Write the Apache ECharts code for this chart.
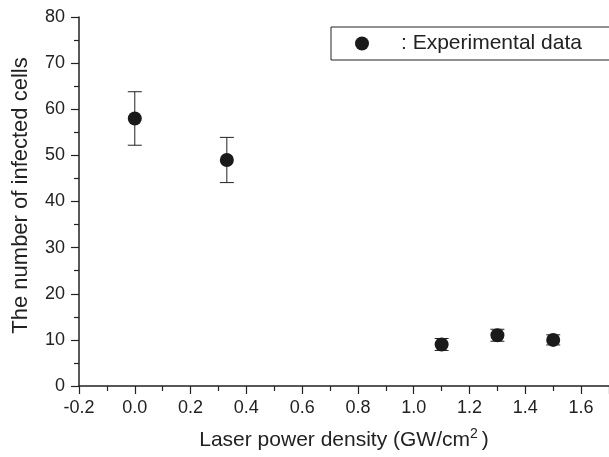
<!DOCTYPE html>
<html>
<head>
<meta charset="utf-8">
<script src="https://cdn.jsdelivr.net/npm/echarts@6/dist/echarts.min.js"></script>
<style>html,body{margin:0;padding:0;background:#fff;}#chart{width:609px;height:457px;}</style>
</head>
<body>
<div id="chart"></div>
<script>
// Data
var laserPower = [0.0, 0.33, 1.1, 1.3, 1.5];
var infectedCells = [58, 49, 9, 11, 10];
var errorValues = [5.8, 4.9, 1.3, 1.3, 1.1];
var seriesName = 'Experimental data';
var xTitle = 'Laser power density (GW/cm{sup|2})';
var yTitle = 'The number of infected cells';

var scatterData = laserPower.map(function (x, i) { return [x, infectedCells[i]]; });
var errorData = laserPower.map(function (x, i) {
  return [x, infectedCells[i] - errorValues[i], infectedCells[i] + errorValues[i]];
});

var FONT = 'Liberation Sans, Arial, Helvetica, sans-serif';
var INK = '#222';

var chart = echarts.init(document.getElementById('chart'), null, { renderer: 'canvas' });
chart.setOption({
  animation: false,
  backgroundColor: '#fff',
  grid: { left: 79, right: -3, top: 17, bottom: 71, containLabel: false },
  legend: {
    data: [seriesName],
    left: 331, top: 27,
    orient: 'horizontal',
    icon: 'circle',
    itemWidth: 14, itemHeight: 14,
    padding: [6, 60, 6, 24],
    borderColor: INK, borderWidth: 1,
    backgroundColor: '#fff',
    formatter: function (n) { return ': ' + n; },
    itemStyle: { opacity: 1, color: '#1a1a1a' },
    textStyle: { fontFamily: FONT, fontSize: 21, color: INK, padding: [0, 0, 0, 27] },
    selectedMode: false
  },
  xAxis: {
    type: 'value',
    min: -0.2, max: 1.7, interval: 0.2,
    name: xTitle,
    nameLocation: 'middle',
    nameGap: 41,
    nameTextStyle: {
      fontFamily: FONT, fontSize: 21, color: INK,
      rich: { sup: { fontSize: 14, verticalAlign: 'top', padding: [0, 4, 13, 0], fontFamily: FONT, color: INK } }
    },
    axisLine: { show: true, onZero: false, lineStyle: { color: INK, width: 1.5 } },
    axisTick: { show: true, inside: false, length: 8, lineStyle: { color: INK, width: 1.2 } },
    minorTick: { show: true, splitNumber: 2, length: 5, lineStyle: { color: INK, width: 1.2 } },
    splitLine: { show: false },
    axisLabel: {
      fontFamily: FONT, fontSize: 18, color: INK, margin: 13,
      showMaxLabel: false,
      formatter: function (v) { return v.toFixed(1); }
    }
  },
  yAxis: {
    type: 'value',
    min: 0, max: 80, interval: 10,
    name: yTitle,
    nameLocation: 'middle',
    nameGap: 47,
    nameTextStyle: { fontFamily: FONT, fontSize: 22, color: INK, padding: [0, 0, 0, 12] },
    axisLine: { show: true, onZero: false, lineStyle: { color: INK, width: 1.5 } },
    axisTick: { show: true, inside: false, length: 8, lineStyle: { color: INK, width: 1.2 } },
    minorTick: { show: true, splitNumber: 2, length: 5, lineStyle: { color: INK, width: 1.2 } },
    splitLine: { show: false },
    axisLabel: { fontFamily: FONT, fontSize: 18, color: INK, margin: 14 }
  },
  series: [
    {
      name: 'error',
      type: 'custom',
      data: errorData,
      z: 1,
      renderItem: function (params, api) {
        var x = api.value(0), lo = api.value(1), hi = api.value(2);
        var pTop = api.coord([x, hi]);
        var pBot = api.coord([x, lo]);
        var w = 7;
        var st = { stroke: INK, lineWidth: 1 };
        return {
          type: 'group',
          children: [
            { type: 'line', shape: { x1: pTop[0], y1: pTop[1], x2: pBot[0], y2: pBot[1] }, style: st },
            { type: 'line', shape: { x1: pTop[0] - w, y1: pTop[1], x2: pTop[0] + w, y2: pTop[1] }, style: st },
            { type: 'line', shape: { x1: pBot[0] - w, y1: pBot[1], x2: pBot[0] + w, y2: pBot[1] }, style: st }
          ]
        };
      }
    },
    {
      name: seriesName,
      type: 'scatter',
      data: scatterData,
      symbol: 'circle',
      symbolSize: 14,
      z: 3,
      itemStyle: { color: '#1a1a1a', opacity: 1 }
    }
  ]
});
</script>
</body>
</html>
